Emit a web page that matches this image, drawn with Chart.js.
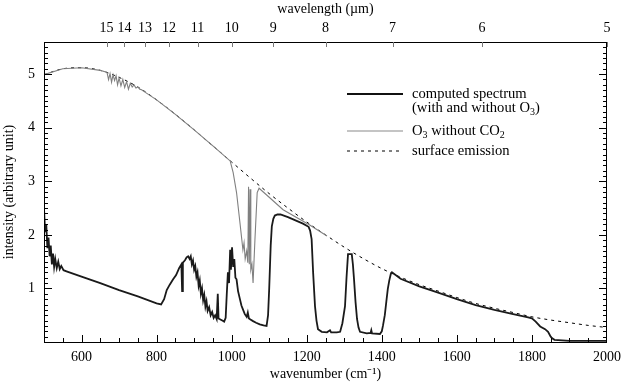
<!DOCTYPE html>
<html>
<head>
<meta charset="utf-8">
<script src="https://cdn.jsdelivr.net/npm/chart.js@4.4.1/dist/chart.umd.min.js"></script>
<style>
    html, body { margin: 0; padding: 0; background: #fff; }
</style>
</head>
<body>
<canvas id="chart" width="621" height="384"></canvas>
<script>
// wavenumber ticks (bottom) and wavelength ticks (top, in µm)
const wavenumberTicks = [600, 800, 1000, 1200, 1400, 1600, 1800, 2000];
const wavelengthTicks = [15, 14, 13, 12, 11, 10, 9, 8, 7, 6, 5];
const intensityTicks = [1, 2, 3, 4, 5];

// surface emission (dashed)
const surfaceWn = [500, 550, 600, 650, 700, 750, 800, 850, 900, 950, 1000, 1050, 1100, 1150, 1200, 1250, 1300,
    1350, 1400, 1450, 1500, 1550, 1600, 1650, 1700, 1750, 1800, 1850, 1900, 1950, 2000];
const surfaceInt = [4.99, 5.10, 5.12, 5.07, 4.94, 4.76, 4.52, 4.25, 3.96, 3.66, 3.36, 3.06, 2.77, 2.50, 2.24, 2.00, 1.77,
    1.56, 1.37, 1.21, 1.07, 0.95, 0.83, 0.72, 0.63, 0.55, 0.47, 0.41, 0.36, 0.31, 0.27];

// O3 without CO2 (grey)
const o3Wn = [500, 550, 600, 650, 665, 668, 672, 676, 680, 684, 688, 692, 696, 700, 705, 710, 715, 720, 725, 730,
    735, 740, 745, 750, 755, 760, 770, 800, 850, 900, 950, 996, 1004, 1013, 1022, 1027, 1030, 1033, 1036, 1040,
    1043, 1045, 1047, 1049, 1051, 1054, 1057, 1062, 1068, 1073, 1094, 1137, 1209, 1254];
const o3Int = [4.99, 5.10, 5.12, 5.07, 5.04, 5.03, 4.90, 5.01, 4.85, 4.99, 4.88, 4.97, 4.80, 4.93, 4.78, 4.90, 4.75, 4.86, 4.72, 4.83,
    4.76, 4.80, 4.74, 4.76, 4.72, 4.71, 4.66, 4.52, 4.25, 3.96, 3.66, 3.38, 3.16, 2.79, 2.23, 1.91, 1.72, 1.85, 1.55, 1.70,
    1.48, 2.90, 1.45, 2.85, 1.35, 1.45, 1.10, 1.91, 2.79, 2.87, 2.74, 2.47, 2.18, 1.98];

// computed spectrum (thick black)
const computedWn = [500, 503, 506, 509, 512, 515, 518, 521, 524, 527, 530, 534, 538, 542, 546, 552, 560, 600, 650, 700,
    750, 800, 812, 820, 827, 835, 844, 852, 860, 866, 868, 870, 876, 880, 884, 888, 891, 894, 897, 900,
    903, 906, 909, 912, 915, 918, 921, 924, 927, 930, 933, 936, 940, 944, 948, 952, 956, 960, 963, 965,
    970, 975, 980, 984, 987, 990, 993, 996, 998, 1001, 1004, 1007, 1010, 1013, 1017, 1022, 1026, 1030, 1035, 1040,
    1043, 1046, 1050, 1057, 1065, 1075, 1085, 1093, 1097, 1100, 1104, 1107, 1111, 1115, 1122, 1130, 1150, 1170, 1190, 1205,
    1209, 1213, 1217, 1222, 1226, 1230, 1240, 1254, 1262, 1265, 1280, 1289, 1295, 1302, 1306, 1310, 1320, 1323, 1326, 1330,
    1334, 1338, 1342, 1360, 1370, 1372, 1374, 1395, 1400, 1403, 1408, 1412, 1416, 1420, 1424, 1427, 1450, 1500, 1550, 1600,
    1650, 1700, 1750, 1790, 1800, 1810, 1822, 1835, 1843, 1850, 1854, 1860, 1880, 1900, 2000];
const computedInt = [2.50, 2.05, 2.20, 1.75, 1.95, 1.60, 1.80, 1.45, 1.65, 1.40, 1.55, 1.38, 1.50, 1.36, 1.42, 1.34, 1.32, 1.22, 1.10, 0.97,
    0.85, 0.72, 0.70, 0.80, 0.97, 1.07, 1.17, 1.25, 1.38, 1.45, 0.95, 1.48, 1.53, 1.58, 1.60, 1.55, 1.60, 1.45, 1.52, 1.35,
    1.42, 1.22, 1.30, 1.05, 1.15, 0.90, 1.00, 0.78, 0.88, 0.66, 0.76, 0.58, 0.65, 0.50, 0.56, 0.45, 0.50, 0.43, 0.90, 0.44,
    0.42, 0.40, 0.38, 0.45, 0.90, 1.30, 1.10, 1.72, 1.35, 1.77, 1.40, 1.55, 1.20, 1.17, 0.95, 0.80, 0.68, 0.61, 0.52, 0.47,
    0.55, 0.44, 0.42, 0.39, 0.36, 0.33, 0.31, 0.30, 0.50, 1.00, 1.80, 2.16, 2.30, 2.36, 2.38, 2.38, 2.33, 2.27, 2.21, 2.15,
    2.08, 1.92, 1.30, 0.67, 0.40, 0.24, 0.19, 0.18, 0.22, 0.18, 0.18, 0.19, 0.35, 0.67, 1.20, 1.64, 1.64, 1.45, 1.17, 0.75,
    0.43, 0.27, 0.19, 0.16, 0.17, 0.22, 0.16, 0.15, 0.20, 0.30, 0.50, 0.75, 0.99, 1.15, 1.27, 1.30, 1.18, 1.04, 0.92, 0.80,
    0.69, 0.60, 0.52, 0.46, 0.44, 0.38, 0.29, 0.24, 0.19, 0.10, 0.07, 0.04, 0.03, 0.02, 0.02];

const toPoints = (xs, ys) => xs.map((x, i) => ({x: x, y: ys[i]}));

const serif = "'Liberation Serif', 'Times New Roman', serif";
const font = {family: serif, size: 14};

// draws a line of text where some parts are subscripts
function drawRich(ctx, parts, x, y) {
    parts.forEach(p => {
        if (p.sub) {
            ctx.font = "10px " + serif;
            ctx.fillText(p.t, x, y + 4);
        } else {
            ctx.font = "14.6px " + serif;
            ctx.fillText(p.t, x, y);
        }
        x += ctx.measureText(p.t).width;
    });
}

// keep the plot area fixed: no extra room for edge labels
function fitHorizontal(s) {
    s.height = 42;
    s.paddingLeft = 0;
    s.paddingRight = 0;
}

const frameAndLegend = {
    id: "frameAndLegend",
    afterDraw(chart) {
        const {ctx, chartArea: a, scales} = chart;
        const xs = scales.x, ys = scales.y;
        ctx.save();
        ctx.strokeStyle = "#000";
        ctx.lineWidth = 1;
        ctx.strokeRect(a.left + 0.5, a.top + 0.5, a.right - a.left - 1, a.bottom - a.top);

        ctx.beginPath();
        // bottom ticks, pointing inward
        for (let w = 550; w < 2000; w += 50) {
            const px = Math.round(xs.getPixelForValue(w)) + 0.5;
            const len = (w % 200 === 0) ? 7 : 4;
            ctx.moveTo(px, a.bottom);
            ctx.lineTo(px, a.bottom - len);
        }
        // left and right ticks
        for (let k = 1; k <= 56; k++) {
            const v = k / 10;
            const py = Math.round(ys.getPixelForValue(v)) + 0.5;
            const len = (k % 10 === 0) ? 8 : 4;
            ctx.moveTo(a.left, py);
            ctx.lineTo(a.left + len, py);
            ctx.moveTo(a.right, py);
            ctx.lineTo(a.right - len, py);
        }
        ctx.stroke();

        // top ticks at wavelengths
        ctx.beginPath();
        ctx.strokeStyle = "#777";
        wavelengthTicks.forEach(l => {
            const px = Math.round(xs.getPixelForValue(10000 / l)) + 0.5;
            ctx.moveTo(px, a.top);
            ctx.lineTo(px, a.top + 5);
        });
        ctx.stroke();

        // legend
        const lx0 = 347, lx1 = 403, tx = 412;
        ctx.fillStyle = "#000";
        ctx.textBaseline = "middle";

        ctx.beginPath();
        ctx.strokeStyle = "#111";
        ctx.lineWidth = 2.2;
        ctx.moveTo(lx0, 94);
        ctx.lineTo(lx1, 94);
        ctx.stroke();
        drawRich(ctx, [{t: "computed spectrum"}], tx, 94);
        drawRich(ctx, [{t: "(with and without O"}, {t: "3", sub: true}, {t: ")"}], tx, 108);

        ctx.beginPath();
        ctx.strokeStyle = "#8a8a8a";
        ctx.lineWidth = 1.1;
        ctx.moveTo(lx0, 131);
        ctx.lineTo(lx1, 131);
        ctx.stroke();
        drawRich(ctx, [{t: "O"}, {t: "3", sub: true}, {t: " without CO"}, {t: "2", sub: true}], tx, 131);

        ctx.beginPath();
        ctx.strokeStyle = "#000";
        ctx.lineWidth = 1;
        ctx.setLineDash([3, 4]);
        ctx.moveTo(lx0, 151);
        ctx.lineTo(lx1, 151);
        ctx.stroke();
        ctx.setLineDash([]);
        drawRich(ctx, [{t: "surface emission"}], tx, 151);

        ctx.restore();
    }
};

new Chart(document.getElementById("chart"), {
    type: "line",
    data: {
        datasets: [
            {
                label: "computed spectrum",
                data: toPoints(computedWn, computedInt),
                borderColor: "#1a1a1a",
                borderWidth: 1.8,
                order: 0
            },
            {
                label: "O3 without CO2",
                data: toPoints(o3Wn, o3Int),
                borderColor: "#808080",
                borderWidth: 1.1,
                order: 1
            },
            {
                label: "surface emission",
                data: toPoints(surfaceWn, surfaceInt),
                borderColor: "#000",
                borderWidth: 1,
                borderDash: [3, 4],
                cubicInterpolationMode: "monotone",
                order: 2
            }
        ]
    },
    options: {
        responsive: false,
        animation: false,
        events: [],
        layout: {padding: {left: 0, right: 14, top: 0, bottom: 0}},
        elements: {point: {radius: 0}, line: {tension: 0, fill: false}},
        plugins: {legend: {display: false}, tooltip: {enabled: false}},
        scales: {
            x: {
                type: "linear",
                position: "bottom",
                min: 500,
                max: 2000,
                afterBuildTicks: s => { s.ticks = wavenumberTicks.map(v => ({value: v})); },
                afterFit: fitHorizontal,
                grid: {display: false, drawTicks: false},
                border: {display: false},
                ticks: {font: font, color: "#000", padding: 7, maxRotation: 0, autoSkip: false, callback: v => String(v)},
                title: {display: true, text: "wavenumber (cm⁻¹)", font: font, color: "#000", padding: {top: 0, bottom: 1}}
            },
            x2: {
                type: "linear",
                position: "top",
                min: 500,
                max: 2000,
                afterBuildTicks: s => { s.ticks = wavelengthTicks.map(l => ({value: 10000 / l})); },
                afterFit: fitHorizontal,
                grid: {display: false, drawTicks: false},
                border: {display: false},
                ticks: {
                    font: font, color: "#000", padding: 5, maxRotation: 0, autoSkip: false,
                    callback: (v, i) => String(wavelengthTicks[i])
                },
                title: {display: true, text: "wavelength (µm)", font: font, color: "#000", padding: {top: 1, bottom: 0}}
            },
            y: {
                type: "linear",
                min: 0,
                max: 5.6,
                afterBuildTicks: s => { s.ticks = intensityTicks.map(v => ({value: v})); },
                afterFit: s => { s.width = 44; s.paddingTop = 0; s.paddingBottom = 0; },
                grid: {display: false, drawTicks: false},
                border: {display: false},
                ticks: {font: font, color: "#000", padding: 9},
                title: {display: true, text: "intensity (arbitrary unit)", font: font, color: "#000", padding: {top: 1, bottom: 0}}
            }
        }
    },
    plugins: [frameAndLegend]
});
</script>
</body>
</html>
